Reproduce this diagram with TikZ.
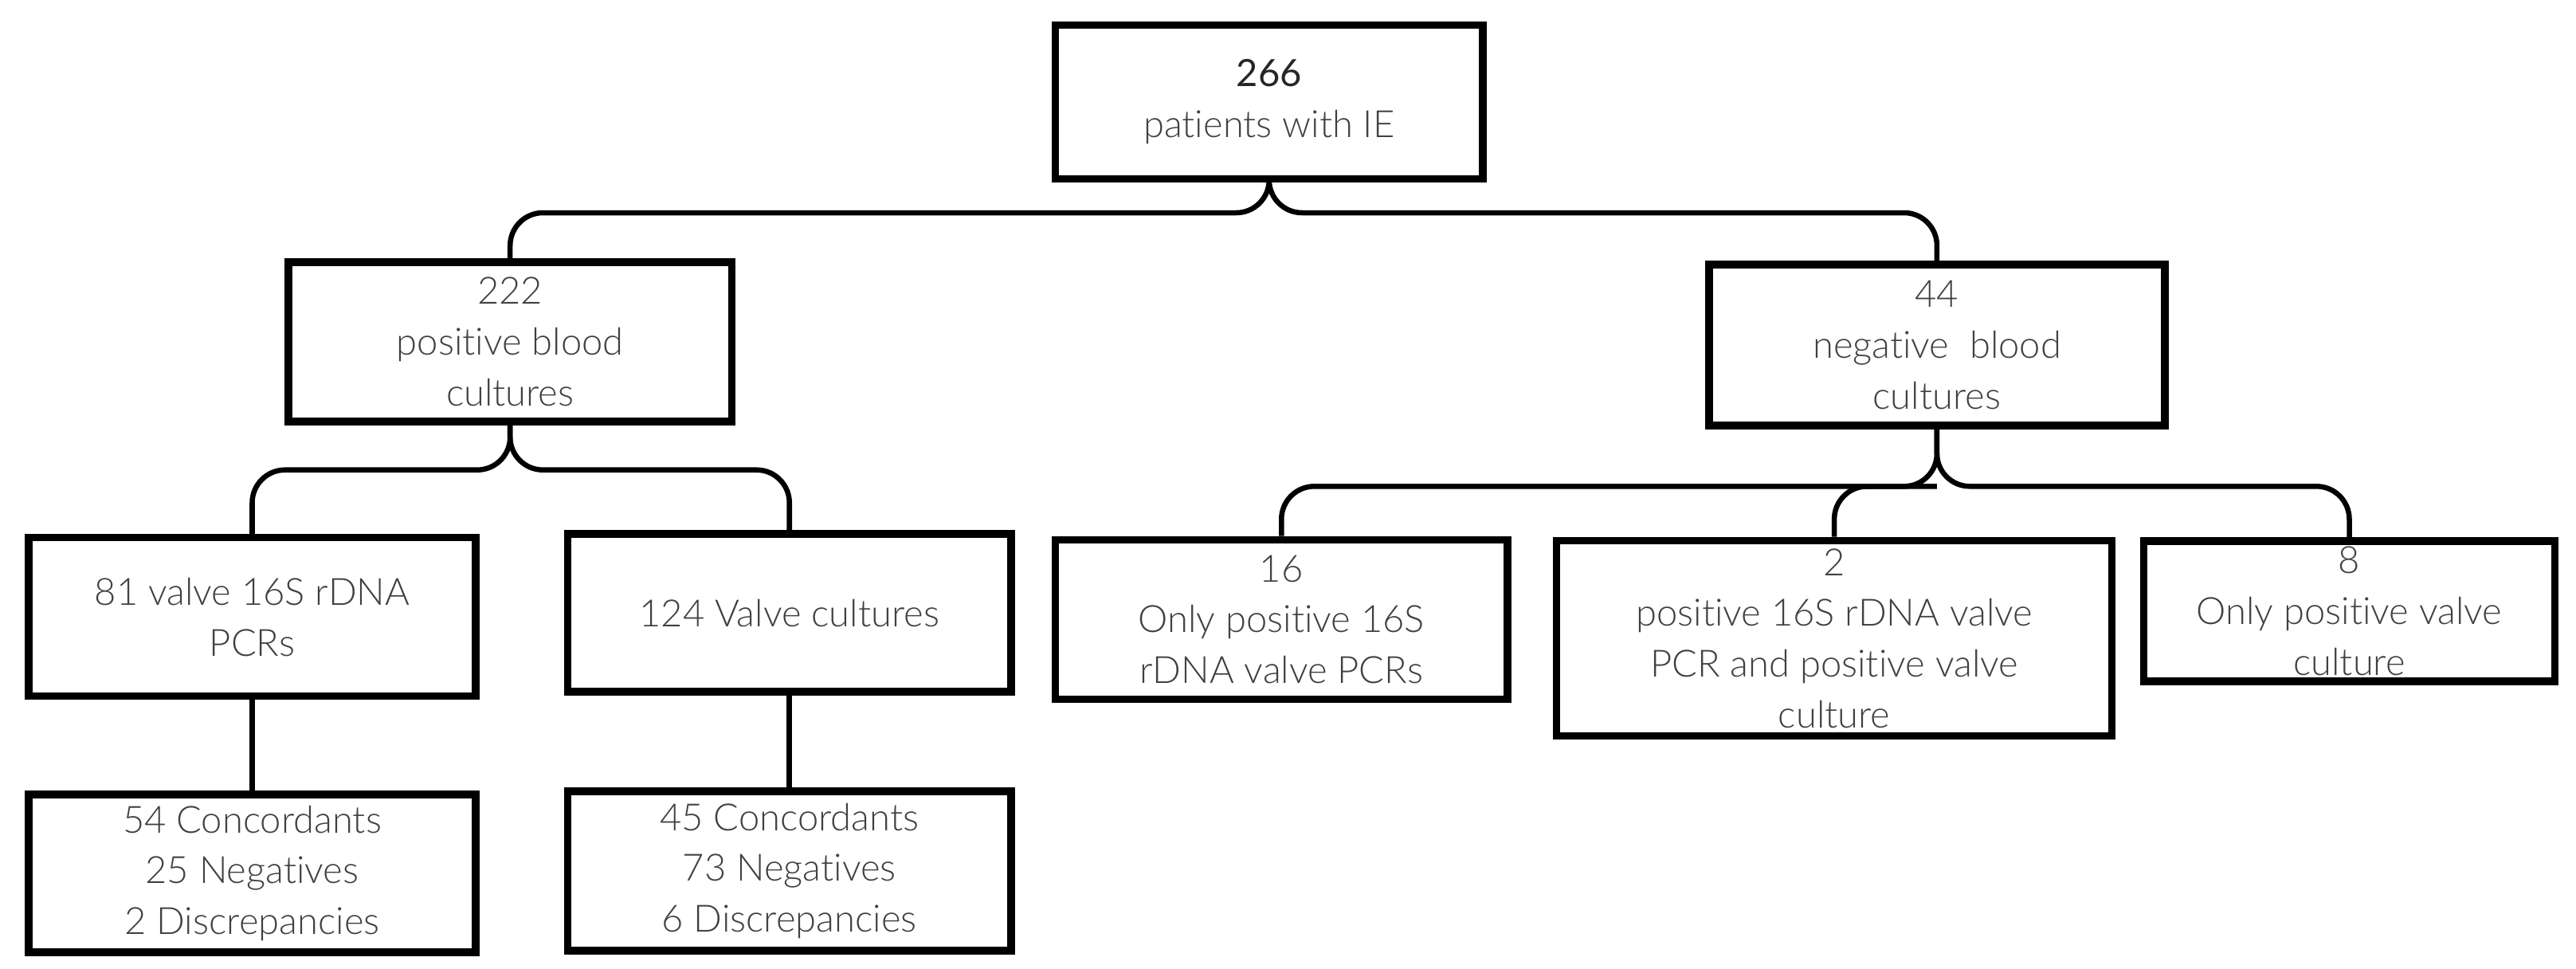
\documentclass[tikz,border=0pt]{standalone}
\usepackage{fontspec}
\setmainfont{Lato Light}[Ligatures={NoCommon}]
\newfontfamily\heavyfont{Lato}[Ligatures={NoCommon}]
\usepackage{tikz}
\usetikzlibrary{positioning}
\definecolor{txtgray}{HTML}{404040}

\begin{document}
\begin{tikzpicture}[
    node distance=3cm,
    on grid,
    box/.style={draw, line width=2.6pt, align=center, text=txtgray,
        font=\fontsize{13pt}{17.6pt}\selectfont, inner sep=2pt},
    branch/.style={line width=1.8pt, rounded corners=0.4cm}]
       \useasboundingbox (0,0) rectangle (31.36,-11.786);
       \node[box, minimum width=5.2cm, minimum height=1.87cm] (patients) at (15.45,-1.24)
            {{\heavyfont\color{black!85}266}\\patients with IE};
       \node[box, minimum width=5.4cm, minimum height=1.94cm] (pos_blood)
            [below left=2.92cm and 9.24cm of patients] {222\\positive blood\\cultures};
       \node[box, minimum width=5.55cm, minimum height=1.96cm] (neg_blood)
            [below right=2.96cm and 8.13cm of patients] {44\\negative\ \ blood\\cultures};
       \node[box, minimum width=5.44cm, minimum height=1.93cm] (pcr)
            [below left=3.35cm and 3.14cm of pos_blood] {81 valve 16S rDNA\\PCRs};
       \node[box, minimum width=5.4cm, minimum height=1.92cm] (culture)
            [below right=3.30cm and 3.40cm of pos_blood] {124 Valve cultures};
       \node[box, minimum width=5.44cm, minimum height=1.92cm] (pcr_res)
            [below=3.12cm of pcr] {54 Concordants\\25 Negatives\\2 Discrepancies};
       \node[box, minimum width=5.4cm, minimum height=1.94cm] (culture_res)
            [below=3.14cm of culture] {45 Concordants\\73 Negatives\\6 Discrepancies};
       \node[box, minimum width=5.5cm, minimum height=1.94cm] (only_pcr)
            [below left=3.34cm and 7.98cm of neg_blood] {16\\Only positive 16S\\rDNA valve PCRs};
       \node[box, minimum width=6.76cm, minimum height=2.38cm] (both)
            [below left=3.57cm and 1.25cm of neg_blood] {2\\positive 16S rDNA valve\\PCR and positive valve\\culture};
       \node[box, minimum width=5.0cm, minimum height=1.70cm] (only_culture)
            [below right=3.24cm and 5.02cm of neg_blood] {8\\Only positive valve\\culture};
       % levels of the horizontal bars
       \coordinate (bar_top) at (0,-2.59);
       \coordinate (bar_pos) at (0,-5.72);
       \coordinate (bar_neg) at (0,-5.92);
        \draw[branch] (patients.south) |- (pos_blood.north |- bar_top) -- (pos_blood.north);
        \draw[branch] (patients.south) |- (neg_blood.north |- bar_top) -- (neg_blood.north);
        \draw[branch] (pos_blood.south) |- (pcr.north |- bar_pos) -- (pcr.north);
        \draw[branch] (pos_blood.south) |- (culture.north |- bar_pos) -- (culture.north);
        \draw[branch] (neg_blood.south) |- (only_pcr.north |- bar_neg) -- (only_pcr.north);
        \draw[branch] (neg_blood.south) |- (only_culture.north |- bar_neg) -- (only_culture.north);
        \draw[branch] (both.north) |- (neg_blood.south |- bar_neg);
        \draw[branch] (pcr) -- (pcr_res);
        \draw[branch] (culture) -- (culture_res);
    \end{tikzpicture}
\end{document}
